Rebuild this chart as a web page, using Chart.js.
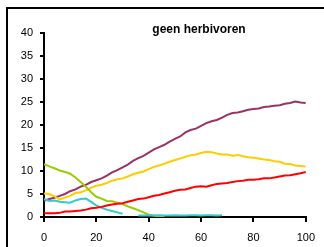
<!DOCTYPE html>
<html>
<head>
<meta charset="utf-8">
<script src="https://cdn.jsdelivr.net/npm/chart.js@4/dist/chart.umd.min.js"></script>
<style>
  html, body { margin: 0; padding: 0; background: #fff; }
  #wrap { width: 324px; height: 247px; }
</style>
</head>
<body>
<div id="wrap"><canvas id="chart" width="324" height="247"></canvas></div>
<script>
// time steps 0..100 (step 2)
const xs = [];
for (let i = 0; i <= 100; i += 2) xs.push(i);

const xTicks = [0, 20, 40, 60, 80, 100];
const yTicks = [0, 5, 10, 15, 20, 25, 30, 35, 40];

const purple = [3.5, 3.9, 4.2, 4.6, 5.0, 5.6, 6.0, 6.6, 7.0, 7.6, 8.0, 8.4, 9.0, 9.7, 10.2, 10.8, 11.4, 12.2, 12.8, 13.3,
  14.0, 14.7, 15.2, 15.7, 16.4, 17.0, 17.5, 18.4, 18.9, 19.2, 19.8, 20.4, 20.8, 21.1, 21.6, 22.2, 22.6, 22.7, 23.0, 23.3,
  23.5, 23.6, 23.9, 24.0, 24.2, 24.3, 24.6, 24.8, 25.1, 24.9, 24.8];

const yellow = [5.1, 5.0, 4.5, 3.8, 4.2, 4.6, 5.2, 5.4, 5.8, 6.4, 6.8, 7.0, 7.4, 7.9, 8.2, 8.4, 8.8, 9.3, 9.6, 9.9,
  10.4, 10.9, 11.2, 11.6, 12.0, 12.4, 12.7, 13.1, 13.4, 13.6, 13.9, 14.2, 14.1, 13.8, 13.6, 13.6, 13.3, 13.5, 13.2, 13.0,
  12.9, 12.7, 12.5, 12.4, 12.1, 12.0, 11.6, 11.5, 11.2, 11.1, 11.0];

const red = [0.8, 0.8, 0.8, 0.9, 1.2, 1.2, 1.3, 1.4, 1.6, 1.9, 2.0, 2.2, 2.5, 2.7, 2.9, 3.0, 3.3, 3.6, 3.9, 4.0,
  4.3, 4.6, 4.8, 5.1, 5.4, 5.7, 5.9, 6.0, 6.3, 6.6, 6.7, 6.6, 6.9, 7.2, 7.3, 7.4, 7.6, 7.8, 7.9, 8.1,
  8.1, 8.2, 8.4, 8.4, 8.6, 8.8, 9.0, 9.1, 9.3, 9.5, 9.8];

const green = [11.5, 11.0, 10.6, 10.1, 9.8, 9.4, 8.6, 7.6, 6.6, 5.4, 4.4, 4.0, 3.5, 3.4, 3.1, 2.8, 2.3, 1.9, 1.5, 1.0,
  0.5, 0.3, 0.1, 0.0, null, null, null, null, null, null, null, null, null, null, null, null, null, null, null, null,
  null, null, null, null, null, null, null, null, null, null, null];

const cyan = [3.9, 3.5, 3.6, 3.3, 3.2, 3.1, 3.6, 3.9, 4.0, 3.3, 2.5, 2.0, 1.6, 1.3, 1.0, 0.7, null, null, 0.3, 0.3,
  0.4, 0.3, 0.4, 0.3, 0.3, 0.4, 0.3, 0.3, 0.4, 0.4, 0.3, 0.4, 0.4, 0.3, 0.4, null, null, null, null, null,
  null, null, null, null, null, null, null, null, null, null, null];

const title = 'geen herbivoren';

function pts(arr) {
  return xs.map((x, i) => ({ x, y: arr[i] }));
}

function line(data, color) {
  return { data: pts(data), borderColor: color, borderWidth: 2, pointRadius: 0, tension: 0, spanGaps: false, fill: false };
}

const framePlugin = {
  id: 'frame',
  beforeDraw(chart) {
    const ctx = chart.ctx;
    ctx.save();
    ctx.fillStyle = '#fff';
    ctx.fillRect(0, 0, chart.width, chart.height);
    ctx.strokeStyle = '#000';
    ctx.lineWidth = 2;
    ctx.beginPath();
    ctx.moveTo(7, chart.height);
    ctx.lineTo(7, 8);
    ctx.lineTo(chart.width, 8);
    ctx.stroke();
    ctx.fillStyle = '#000';
    ctx.font = 'bold 12px "Liberation Sans", Arial, sans-serif';
    ctx.textAlign = 'center';
    ctx.textBaseline = 'alphabetic';
    ctx.fillText(title, 199, 33);
    ctx.restore();
  },
};

const tickFont = { family: '"Liberation Sans", Arial, sans-serif', size: 11 };

new Chart(document.getElementById('chart'), {
  type: 'line',
  data: {
    datasets: [
      line(red, '#ff0000'),
      line(cyan, '#33cccc'),
      line(green, '#99cc00'),
      line(yellow, '#ffcc00'),
      line(purple, '#993366'),
    ],
  },
  options: {
    responsive: false,
    animation: false,
    layout: { padding: { top: 33, right: 18, left: 0, bottom: 0 } },
    plugins: { legend: { display: false }, tooltip: { enabled: false } },
    scales: {
      x: {
        type: 'linear',
        min: 0,
        max: 100,
        afterBuildTicks: (s) => { s.ticks = xTicks.map((v) => ({ value: v })); },
        afterFit: (s) => { s.height = 30; },
        ticks: { color: '#000', font: tickFont, padding: 9, maxRotation: 0 },
        grid: { drawOnChartArea: false, drawTicks: true, tickLength: 5, color: '#000', lineWidth: 2 },
        border: { color: '#000', width: 2 },
      },
      y: {
        min: 0,
        max: 40,
        afterBuildTicks: (s) => { s.ticks = yTicks.map((v) => ({ value: v })); },
        afterFit: (s) => { s.width = 44; },
        ticks: { color: '#000', font: tickFont, padding: 7 },
        grid: { drawOnChartArea: false, drawTicks: true, tickLength: 4, color: '#000', lineWidth: 2 },
        border: { color: '#000', width: 2 },
      },
    },
  },
  plugins: [framePlugin],
});
</script>
</body>
</html>
